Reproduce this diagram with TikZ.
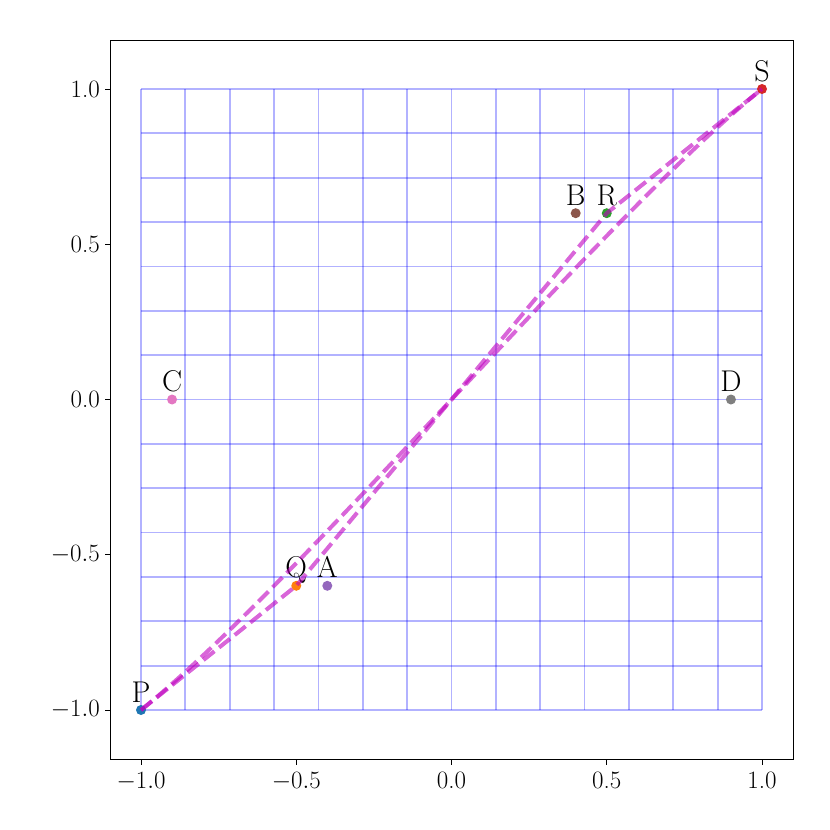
\documentclass[tikz,border=0pt]{standalone}
\definecolor{tabblue}{HTML}{1F77B4}
\definecolor{taborange}{HTML}{FF7F0E}
\definecolor{tabgreen}{HTML}{2CA02C}
\definecolor{tabred}{HTML}{D62728}
\definecolor{tabpurple}{HTML}{9467BD}
\definecolor{tabbrown}{HTML}{8C564B}
\definecolor{tabpink}{HTML}{E377C2}
\definecolor{tabgray}{HTML}{7F7F7F}
\definecolor{mplm}{HTML}{BF00BF}
\begin{document}
\begin{tikzpicture}[x=1pt,y=-1pt,
  gridline/.style={blue,opacity=0.3,line width=1.8pt},
  frameline/.style={black,line width=1pt},
  tickline/.style={black,line width=0.9pt},
  ticklab/.style={inner sep=0pt,font=\fontsize{25}{30}\selectfont},
  ptlab/.style={inner sep=0pt,anchor=base,font=\fontsize{30}{36}\selectfont},
  dot/.style={circle,inner sep=0pt,minimum size=10pt},
  curve/.style={mplm,opacity=0.6,line width=4pt,dash pattern=on 14pt off 6pt}]
\useasboundingbox (0,0) rectangle (830,830);
% grid
\foreach \i in {0,...,14} {
  \draw[gridline] ({141+44.357*\i},89) -- ({141+44.357*\i},710);
  \draw[gridline] (141,{89+44.357*\i}) -- (762,{89+44.357*\i});
}
% frame
\draw[frameline] (110,40) rectangle (793,759);
% ticks and labels
\foreach \v/\t in {-1/{$-1.0$},-0.5/{$-0.5$},0/{0.0},0.5/{0.5},1/{1.0}} {
  \draw[tickline] ({451.5+310.5*\v},759) -- ({451.5+310.5*\v},764.5);
  \node[ticklab,anchor=north] at ({451.5+310.5*\v},772) {\t};
  \draw[tickline] (110,{399.5-310.5*\v}) -- (104.5,{399.5-310.5*\v});
  \node[ticklab,anchor=east] at (100,{399.5-310.5*\v}) {\t};
}
% points
\coordinate (P) at (141,710);
\coordinate (Q) at (296.25,585.8);
\coordinate (R) at (606.75,213.2);
\coordinate (S) at (762,89);
\coordinate (A) at (327.3,585.8);
\coordinate (B) at (575.7,213.2);
\coordinate (C) at (172.05,399.5);
\coordinate (D) at (730.95,399.5);
\node[dot,fill=tabblue] (dP) at (P) {};
\node[dot,fill=taborange] (dQ) at (Q) {};
\node[dot,fill=tabgreen] (dR) at (R) {};
\node[dot,fill=tabred] (dS) at (S) {};
\node[dot,fill=tabpurple] (dA) at (A) {};
\node[dot,fill=tabbrown] (dB) at (B) {};
\node[dot,fill=tabpink] (dC) at (C) {};
\node[dot,fill=tabgray] (dD) at (D) {};
\foreach \n in {P,Q,R,S,A,B,C,D} {
  \node[ptlab] (l\n) at ([yshift=8pt]\n) {\n};
}
% curves
\draw[curve] (P) -- (Q) -- (R) -- (S);
\draw[curve] (P) .. controls (Q) and (R) .. (S);
\end{tikzpicture}
\end{document}
